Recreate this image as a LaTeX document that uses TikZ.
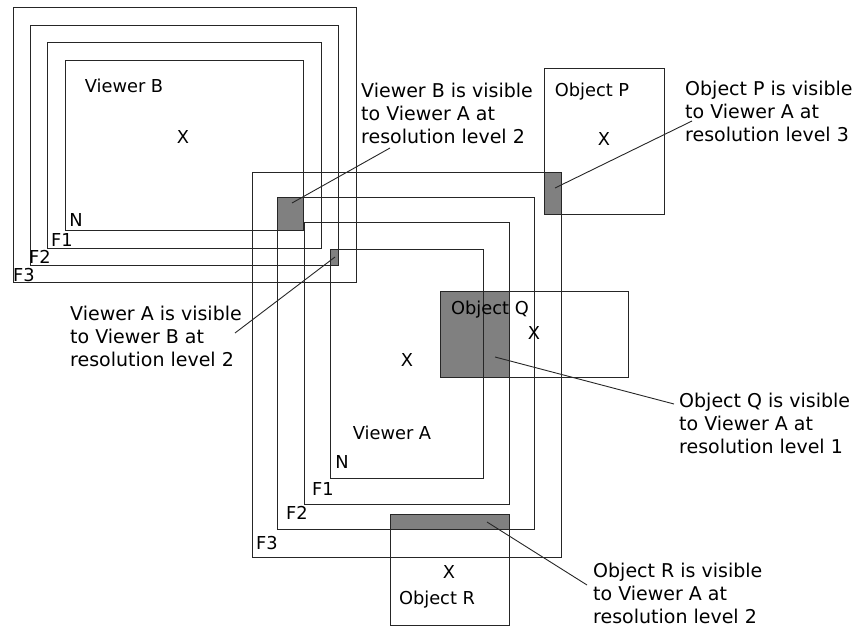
\documentclass[tikz,border=0pt]{standalone}
\usepackage{fontspec}
\setmainfont{DejaVu Sans}
\usepackage{xcolor}
\usepackage{tikz}
\newcommand{\lblfont}{\fontsize{17.8}{20}\selectfont}
\newcommand{\notefont}{\fontsize{19}{23}\selectfont}
\tikzset{
  frame/.style={draw=black!85, line width=1pt},
  hit/.style={fill=gray},
  lbl/.style={font=\lblfont, inner sep=0pt},
  note/.style={font=\notefont, align=left, inner sep=0pt, anchor=west},
  leader/.style={draw=black!85, line width=0.9pt},
}

\begin{document}
\begin{tikzpicture}[x=1pt, y=-1pt]
\useasboundingbox (0,0) rectangle (856,626);
% overlaps that are visible
\fill[hit] (277,197) rectangle (303,230); \coordinate (hitB) at (292,203);
\fill[hit] (330,249) rectangle (338,265); \coordinate (hitA) at (335,257);
\fill[hit] (544,172) rectangle (561,214); \coordinate (hitP) at (555,188);
\fill[hit] (440,291) rectangle (509,377); \coordinate (hitQ) at (495,357);
\fill[hit] (390,514) rectangle (509,529); \coordinate (hitR) at (487,522);
% viewer B: N, F1, F2, F3
\draw[frame] (65,61) rectangle (303,230);
\draw[frame] (47,43) rectangle (321,248);
\draw[frame] (30,26) rectangle (338,265);
\draw[frame] (13,8) rectangle (356,282);
\node[lbl] (vb) at (124,86) {Viewer B}; \node[lbl] (vbx) at (183,137) {X};
\node[lbl] at (76,220) {N};  \node[lbl] at (62,240) {F1};
\node[lbl] at (40,257) {F2}; \node[lbl] at (24,275) {F3};
% viewer A: N, F1, F2, F3
\draw[frame] (330,249) rectangle (483,478);
\draw[frame] (304,222) rectangle (509,504);
\draw[frame] (277,197) rectangle (534,529);
\draw[frame] (252,172) rectangle (561,557);
\node[lbl] (va) at (392,433) {Viewer A}; \node[lbl] (vax) at (407,360) {X};
\node[lbl] at (342,462) {N};  \node[lbl] at (323,489) {F1};
\node[lbl] at (297,513) {F2}; \node[lbl] at (267,543) {F3};
% objects
\draw[frame] (544,68) rectangle (664,214);
\node[lbl] (op) at (592,92) {Object P}; \node[lbl] at (604,139) {X};
\draw[frame] (440,291) rectangle (628,377);
\node[lbl] (oq) at (490,310) {Object Q}; \node[lbl] at (534,333) {X};
\draw[frame] (390,514) rectangle (509,625);
\node[lbl] (or) at (437,600) {Object R}; \node[lbl] at (449,572) {X};
% callouts
\node[note] (noteB) at (361,113) {Viewer B is visible\\to Viewer A at\\resolution level 2};
\node[note] (noteA) at (70,336) {Viewer A is visible\\to Viewer B at\\resolution level 2};
\node[note] (noteP) at (685,111) {Object P is visible\\to Viewer A at\\resolution level 3};
\node[note] (noteQ) at (679,423) {Object Q is visible\\to Viewer A at\\resolution level 1};
\node[note] (noteR) at (593,593) {Object R is visible\\to Viewer A at\\resolution level 2};
\coordinate (tailB) at (390,148); \coordinate (tailA) at (235,333);
\coordinate (tailP) at (692,121); \coordinate (tailQ) at (674,404);
\coordinate (tailR) at (587,585);
\draw[leader] (tailB) -- (hitB);
\draw[leader] (tailA) -- (hitA);
\draw[leader] (tailP) -- (hitP);
\draw[leader] (tailQ) -- (hitQ);
\draw[leader] (tailR) -- (hitR);
\end{tikzpicture}
\end{document}
